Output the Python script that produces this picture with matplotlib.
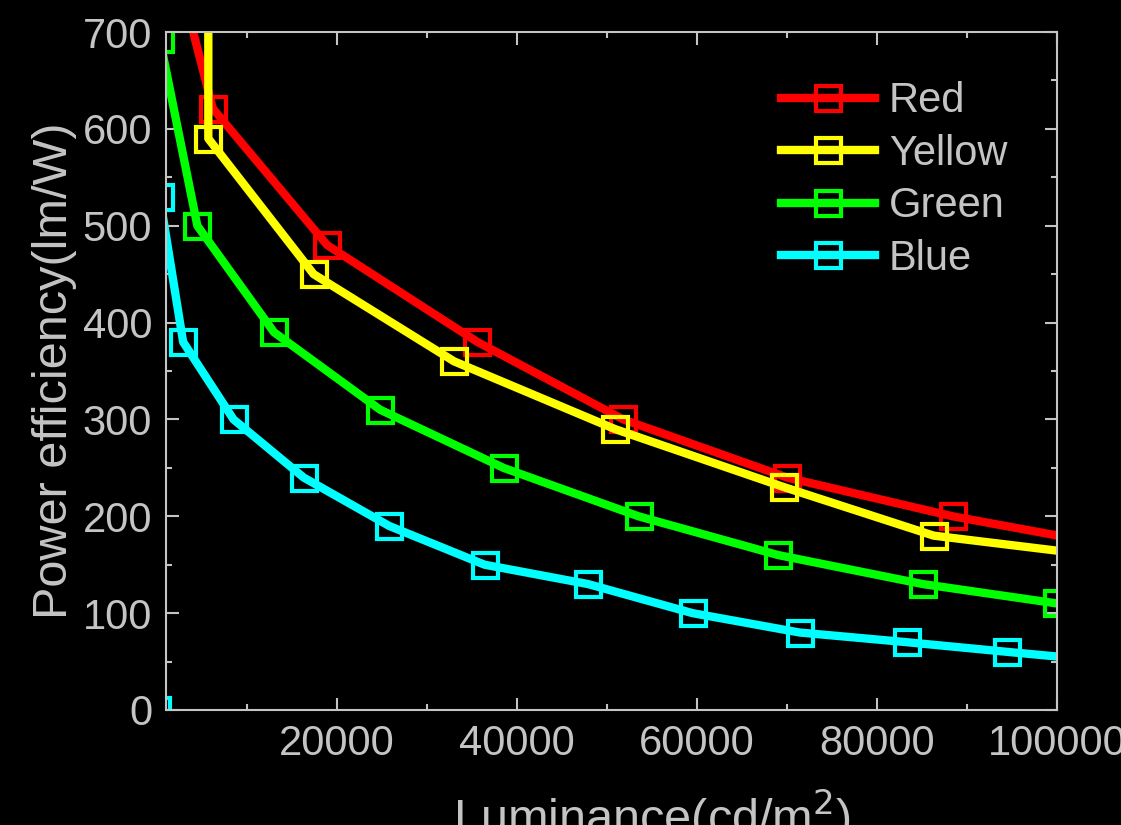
import matplotlib.pyplot as plt
from matplotlib.ticker import MultipleLocator

plt.rcParams['font.family'] = ['Liberation Sans', 'DejaVu Sans']

# data (cd/m2, lm/W)
red_x = [2500, 6200, 18900, 35600, 51800, 70000, 88400, 106000]
red_y = [755, 621, 480, 380, 300, 240, 200, 170]

yellow_x = [5700, 5700, 17400, 33000, 50900, 69700, 86300, 104000]
yellow_y = [1200, 590, 450, 360, 290, 230, 180, 160]

green_x = [300, 4480, 13000, 24800, 38500, 53500, 69000, 85100, 100000]
green_y = [693, 500, 390, 310, 250, 200, 160, 130, 110]

blue_x = [0, 300, 2900, 8500, 16300, 25800, 36400, 47900, 59500, 71400, 83300, 94500, 106000]
blue_y = [0, 530, 380, 300, 240, 190, 150, 130, 100, 80, 70, 60, 50]

series = [
    ('Red', red_x, red_y, '#ff0000'),
    ('Yellow', yellow_x, yellow_y, '#ffff00'),
    ('Green', green_x, green_y, '#00ff00'),
    ('Blue', blue_x, blue_y, '#00ffff'),
]

grey = '#c4c4c4'

fig = plt.figure(figsize=(11.21, 8.25), dpi=100, facecolor='black')
ax = fig.add_axes([0.1481, 0.1394, 0.7948, 0.8218], facecolor='black')

for name, xs, ys, col in series:
    ax.plot(xs, ys, color=col, lw=6, marker='s', ms=18, mew=3,
            mfc='none', mec=col, label=name)

ax.set_xlim(1000, 100000)
ax.set_ylim(0, 700)
ax.xaxis.set_major_locator(MultipleLocator(20000))
ax.xaxis.set_minor_locator(MultipleLocator(10000))
ax.yaxis.set_major_locator(MultipleLocator(100))
ax.yaxis.set_minor_locator(MultipleLocator(50))

for sp in ax.spines.values():
    sp.set_color(grey)
    sp.set_linewidth(1.5)

ax.tick_params(which='both', direction='in', top=True, right=True,
               color=grey, labelcolor=grey, width=1.5, labelsize=30)
ax.tick_params(which='major', length=9)
ax.tick_params(which='minor', length=4.5)
ax.tick_params(axis='x', pad=10)
ax.tick_params(axis='y', pad=10)

ax.set_ylabel('Power efficiency(lm/W)', color=grey, fontsize=35, labelpad=4)
ax.set_xlabel('Luminance(cd/m$^2$)', color=grey, fontsize=35)
ax.xaxis.set_label_coords(0.545, -0.114)

leg = ax.legend(loc='upper right', bbox_to_anchor=(0.963, 0.952), frameon=False,
                fontsize=30, handlelength=2.25, handletextpad=0.33,
                labelspacing=0.3, borderaxespad=0)
for t in leg.get_texts():
    t.set_color(grey)

fig.savefig('out.png', dpi=100, facecolor='black')
